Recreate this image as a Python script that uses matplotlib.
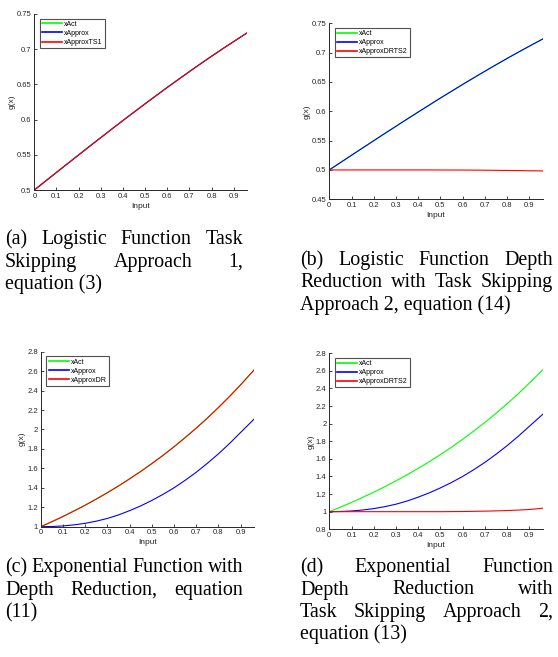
import matplotlib.pyplot as plt
from matplotlib.ticker import FormatStrFormatter

# input grid
x = [0, 0.05, 0.1, 0.15, 0.2, 0.25, 0.3, 0.35, 0.4, 0.45, 0.5,
     0.55, 0.6, 0.65, 0.7, 0.75, 0.8, 0.85, 0.9, 0.95, 0.96]

# logistic (a), (b)
log_act = [0.5, 0.5125, 0.525, 0.5374, 0.5498, 0.5622, 0.5744, 0.5866, 0.5987, 0.6106, 0.6225,
           0.6341, 0.6457, 0.657, 0.6682, 0.6792, 0.69, 0.7006, 0.7109, 0.7211, 0.7231]
log_approx = list(log_act)
log_ts1 = list(log_act)
log_drts2 = [0.5, 0.5, 0.5, 0.5, 0.5, 0.5, 0.5, 0.5, 0.5, 0.5, 0.4999,
             0.4999, 0.4998, 0.4997, 0.4995, 0.4993, 0.4991, 0.4989, 0.4986, 0.4984, 0.4983]

# exponential (c), (d)
exp_act = [1.0, 1.051, 1.105, 1.162, 1.221, 1.284, 1.35, 1.419, 1.492, 1.568, 1.649,
           1.733, 1.822, 1.916, 2.014, 2.117, 2.226, 2.34, 2.46, 2.586, 2.612]
exp_approx = [1.0, 1.002, 1.008, 1.019, 1.035, 1.057, 1.085, 1.121, 1.165, 1.214, 1.27,
              1.332, 1.4, 1.477, 1.56, 1.652, 1.75, 1.856, 1.97, 2.083, 2.106]
exp_dr = list(exp_act)
exp_drts2 = [1.0, 1.0, 1.0, 1.0, 1.0, 1.0, 1.0, 1.0, 1.0, 1.0, 1.0,
             1.001, 1.002, 1.004, 1.006, 1.009, 1.013, 1.018, 1.025, 1.036, 1.04]

xticks = [0, 0.1, 0.2, 0.3, 0.4, 0.5, 0.6, 0.7, 0.8, 0.9]

panels = [
    # (axes rect, series, labels, ylim, yticks)
    ([0.0615, 0.7108, 0.3812, 0.2679], [log_act, log_approx, log_ts1],
     ['xAct', 'xApprox', 'xApproxTS1'], (0.5, 0.75), [0.5, 0.55, 0.6, 0.65, 0.7, 0.75]),
    ([0.5901, 0.6967, 0.3824, 0.2679], [log_act, log_approx, log_drts2],
     ['xAct', 'xApprox', 'xApproxDRTS2'], (0.45, 0.75), [0.45, 0.5, 0.55, 0.6, 0.65, 0.7, 0.75]),
    ([0.0729, 0.1983, 0.3823, 0.2664], [exp_act, exp_approx, exp_dr],
     ['xAct', 'xApprox', 'xApproxDR'], (1, 2.8), [1, 1.2, 1.4, 1.6, 1.8, 2, 2.2, 2.4, 2.6, 2.8]),
    ([0.5901, 0.1944, 0.3824, 0.2679], [exp_act, exp_approx, exp_drts2],
     ['xAct', 'xApprox', 'xApproxDRTS2'], (0.8, 2.8), [0.8, 1, 1.2, 1.4, 1.6, 1.8, 2, 2.2, 2.4, 2.6, 2.8]),
]

colors = ['#00ff00', '#0000ff', '#ff0000']

captions = [
    # (left px, right px, first baseline px, lines, justified flags)
    (5, 243, 244, ['(a) Logistic Function Task', 'Skipping Approach 1,', 'equation (3)'], [True, True, False]),
    (300, 553, 265, ['(b) Logistic Function Depth', 'Reduction with Task Skipping', 'Approach 2, equation (14)'], [True, True, False]),
    (5, 243, 572, ['(c) Exponential Function with', 'Depth Reduction, equation', '(11)'], [True, True, False]),
    (300, 553, 572, ['(d) Exponential Function', 'Depth Reduction with', 'Task Skipping Approach 2,', 'equation (13)'], [True, True, True, False]),
]

W, H = 558, 657
fig = plt.figure(figsize=(W / 100, H / 100), dpi=100)

for rect, series, labels, ylim, yticks in panels:
    ax = fig.add_axes(rect)
    for ys, c, lab in zip(series, colors, labels):
        ax.plot(x, ys, color=c, lw=0.8, label=lab)
    ax.set_xlim(0, 0.96)
    ax.set_ylim(*ylim)
    ax.set_xticks(xticks)
    ax.set_yticks(yticks)
    ax.xaxis.set_major_formatter(FormatStrFormatter('%g'))
    ax.yaxis.set_major_formatter(FormatStrFormatter('%g'))
    for s in ['top', 'right']:
        ax.spines[s].set_visible(False)
    for s in ['left', 'bottom']:
        ax.spines[s].set_color('#262626')
        ax.spines[s].set_linewidth(0.7)
    ax.tick_params(direction='in', length=2.5, width=0.6, colors='#262626',
                   labelsize=5.5, pad=2)
    for lbl in ax.get_xticklabels() + ax.get_yticklabels():
        lbl.set_family('Liberation Sans')
    ax.set_xlabel('Input', fontsize=6, family='Liberation Sans', color='#262626', labelpad=2)
    ax.set_ylabel('g(x)', fontsize=6, family='Liberation Sans', color='#262626', labelpad=1)
    leg = ax.legend(loc='upper left', bbox_to_anchor=(0.027, 0.973), borderaxespad=0,
                    prop={'family': 'Liberation Sans', 'size': 5},
                    frameon=True, fancybox=False, handlelength=2.9, handletextpad=0.3,
                    labelspacing=0.3, borderpad=0.3)
    leg.get_frame().set_edgecolor('#262626')
    leg.get_frame().set_linewidth(0.8)
    for ln in leg.get_lines():
        ln.set_linewidth(1.2)

# captions, justified like the paper's column text
fig.canvas.draw()
renderer = fig.canvas.get_renderer()
cap_font = dict(family='Liberation Serif', fontsize=14.4, color='black')
line_gap = 22.5
for left, right, base, lines, just in captions:
    for i, (line, j) in enumerate(zip(lines, just)):
        yf = 1 - (base + i * line_gap) / H
        words = line.split(' ')
        if not j or len(words) == 1:
            fig.text(left / W, yf, line, ha='left', va='baseline', **cap_font)
            continue
        texts = [fig.text(0, yf, w, ha='left', va='baseline', **cap_font) for w in words]
        widths = [t.get_window_extent(renderer).width for t in texts]
        gap = (right - left - sum(widths)) / (len(words) - 1)
        pos = left
        for t, wd in zip(texts, widths):
            t.set_x(pos / W)
            pos += wd + gap

plt.savefig('out.png', dpi=100)
